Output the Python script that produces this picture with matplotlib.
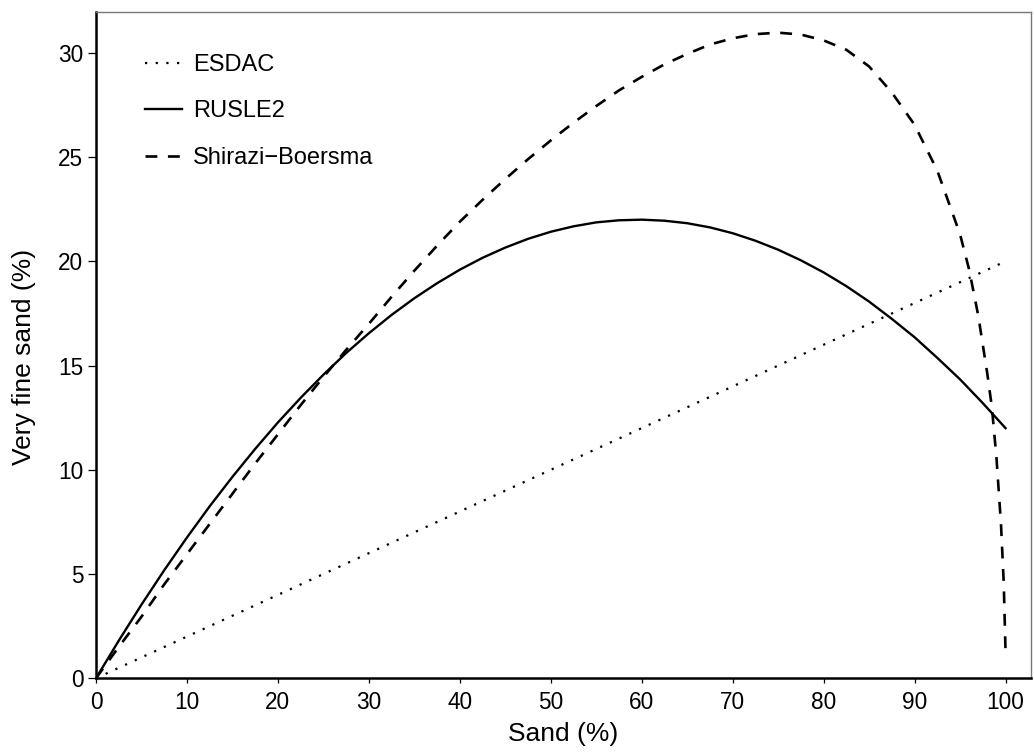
import matplotlib
matplotlib.use("Agg")
import matplotlib.pyplot as plt

plt.rcParams['font.family'] = ['Liberation Sans', 'DejaVu Sans']

# ESDAC: straight line from the origin
esdac_sand = [0, 100]
esdac_vfs = [0, 20]

# RUSLE2 curve
rusle_sand = [0, 2.5, 5, 7.5, 10, 12.5, 15, 17.5, 20, 22.5, 25, 27.5, 30,
              32.5, 35, 37.5, 40, 42.5, 45, 47.5, 50, 52.5, 55, 57.5, 60,
              62.5, 65, 67.5, 70, 72.5, 75, 77.5, 80, 82.5, 85, 87.5, 90,
              92.5, 95, 97.5, 100]
rusle_vfs = [0, 1.80, 3.53, 5.18, 6.75, 8.25, 9.66, 11.0, 12.27, 13.45,
             14.56, 15.6, 16.55, 17.43, 18.23, 18.95, 19.6, 20.17, 20.66,
             21.08, 21.42, 21.68, 21.87, 21.97, 22.0, 21.95, 21.83, 21.63,
             21.35, 20.99, 20.56, 20.05, 19.47, 18.81, 18.07, 17.24, 16.36,
             15.37, 14.34, 13.2, 12.0]

# Shirazi-Boersma curve
sb_sand = [0, 2.5, 5, 7.5, 10, 12.5, 15, 17.5, 20, 22.5, 25, 27.5, 30,
           32.5, 35, 37.5, 40, 42.5, 45, 47.5, 50, 52.5, 55, 57.5, 60,
           62.5, 65, 67.5, 70, 72.5, 75, 77.5, 80, 82.5, 85, 87.5, 90,
           92.5, 95, 96, 97, 98, 98.5, 99, 99.5, 99.8, 100]
sb_vfs = [0, 1.5, 2.95, 4.5, 5.95, 7.4, 8.85, 10.3, 11.7, 13.1, 14.45,
          15.75, 17.0, 18.3, 19.55, 20.75, 21.9, 22.95, 23.95, 24.9, 25.8,
          26.65, 27.45, 28.2, 28.85, 29.45, 29.95, 30.4, 30.7, 30.9, 30.97,
          30.88, 30.6, 30.15, 29.35, 28.1, 26.55, 24.35, 21.3, 19.6, 17.4,
          14.6, 13.0, 10.6, 7.4, 4.6, 1.3]

fig = plt.figure(figsize=(10.34, 7.56), dpi=100)
ax = fig.add_axes([0.0928, 0.1028, 0.9043, 0.881])

ax.plot(esdac_sand, esdac_vfs, color='black', lw=1.6,
        linestyle=(0, (1, 3.8)), label='ESDAC')
ax.plot(rusle_sand, rusle_vfs, color='black', lw=1.7, label='RUSLE2')
ax.plot(sb_sand, sb_vfs, color='black', lw=1.9,
        linestyle=(0, (4.5, 4.0)), label='Shirazi\u2212Boersma')

ax.set_xlim(0, 102.8)
ax.set_ylim(0, 31.95)
ax.set_xticks(range(0, 101, 10))
ax.set_yticks(range(0, 31, 5))
ax.tick_params(axis='x', direction='out', length=3.6, width=0.9,
               labelsize=16.3, color='black', pad=5.5)
ax.tick_params(axis='y', direction='out', length=5.5, width=0.9,
               labelsize=16.3, color='black', pad=3.5)

for side in ('left', 'bottom'):
    ax.spines[side].set_linewidth(1.8)
    ax.spines[side].set_color('black')
for side in ('top', 'right'):
    ax.spines[side].set_linewidth(1.0)
    ax.spines[side].set_color('#777777')

ax.set_xlabel('Sand (%)', fontsize=19, va='center')
ax.set_ylabel('Very fine sand (%)', fontsize=19, va='center')
ax.xaxis.set_label_coords(0.5, -0.0836)
ax.yaxis.set_label_coords(-0.077, 0.483)

ax.legend(loc='upper left', bbox_to_anchor=(0.0524, 0.9375), frameon=False,
          fontsize=17, handlelength=1.57, handletextpad=0.47,
          labelspacing=1.04, borderpad=0, borderaxespad=0)

fig.savefig('out.png', dpi=100)
